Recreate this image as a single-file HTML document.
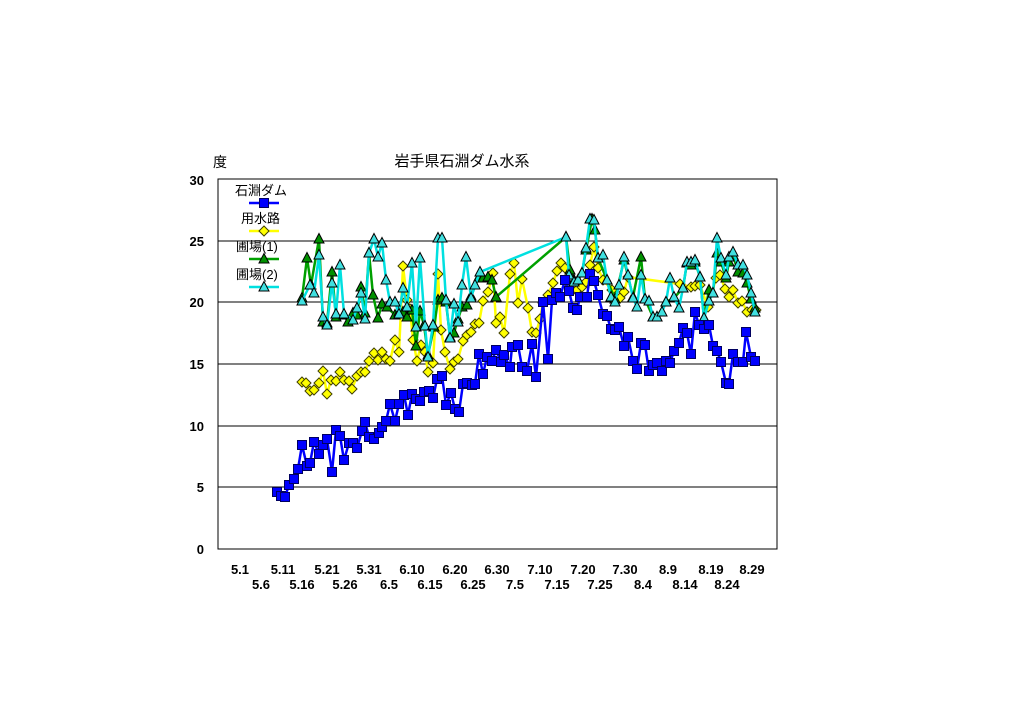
<!DOCTYPE html>
<html><head><meta charset="utf-8"><style>
html,body{margin:0;padding:0;background:#fff;}
svg{display:block;}
text{font-family:"Liberation Sans","Noto Sans CJK JP",sans-serif;}
</style></head><body>
<svg id="s" width="1024" height="724" xmlns="http://www.w3.org/2000/svg">
<rect x="0" y="0" width="1024" height="724" fill="#fff"/>
<g stroke="#000" stroke-width="1">
<line x1="218" y1="241" x2="777" y2="241"/>
<line x1="218" y1="302" x2="777" y2="302"/>
<line x1="218" y1="364" x2="777" y2="364"/>
<line x1="218" y1="426" x2="777" y2="426"/>
<line x1="218" y1="487" x2="777" y2="487"/>
<rect x="218" y="179" width="559" height="370" fill="none"/>
</g>
<g font-size="13" font-weight="bold" text-anchor="end">
<text x="204" y="185">30</text><text x="204" y="246">25</text><text x="204" y="307">20</text>
<text x="204" y="369">15</text><text x="204" y="431">10</text><text x="204" y="492">5</text><text x="204" y="554">0</text>
</g>
<text x="213" y="167" font-size="14">度</text>
<text x="462" y="166" font-size="15" text-anchor="middle">岩手県石淵ダム水系</text>
<g font-size="13" font-weight="bold" text-anchor="middle">
<text x="240" y="574">5.1</text><text x="283" y="574">5.11</text><text x="327" y="574">5.21</text><text x="369" y="574">5.31</text><text x="412" y="574">6.10</text><text x="455" y="574">6.20</text><text x="497" y="574">6.30</text><text x="540" y="574">7.10</text><text x="583" y="574">7.20</text><text x="625" y="574">7.30</text><text x="668" y="574">8.9</text><text x="711" y="574">8.19</text><text x="752" y="574">8.29</text>
<text x="261" y="589">5.6</text><text x="302" y="589">5.16</text><text x="345" y="589">5.26</text><text x="389" y="589">6.5</text><text x="430" y="589">6.15</text><text x="473" y="589">6.25</text><text x="515" y="589">7.5</text><text x="557" y="589">7.15</text><text x="600" y="589">7.25</text><text x="643" y="589">8.4</text><text x="685" y="589">8.14</text><text x="727" y="589">8.24</text>
</g>
<g id="d"></g>
<g font-size="13">
<text x="235" y="195">石淵ダム</text>
<text x="241" y="223">用水路</text>
<text x="236" y="251">圃場(1)</text>
<text x="236" y="279">圃場(2)</text>
</g>
<g id="lg"></g>
</svg>
<script>
var blue=[[277,492],[281,496],[285,497],[289,485],[294,479],[298,469],[302,445],[307,466],[310,463],[314,442],[319,454],[323,445],[327,439],[332,472],[336,430],[340,436],[344,460],[349,443],[353,443],[357,448],[362,431],[365,422],[369,437],[374,439],[379,433],[382,427],[386,421],[390,404],[395,421],[399,404],[404,395],[408,415],[412,394],[416,399],[420,401],[424,392],[429,391],[433,398],[437,379],[442,376],[446,405],[451,393],[455,409],[459,412],[463,384],[467,383],[472,385],[475,384],[479,354],[483,374],[487,357],[492,361],[496,350],[501,362],[504,355],[510,367],[512,347],[518,345],[522,367],[527,371],[532,344],[536,377],[543,302],[548,359],[552,300],[556,293],[560,297],[565,280],[569,291],[573,308],[577,310],[580,297],[587,297],[590,274],[594,281],[598,295],[603,314],[607,316],[611,329],[615,330],[619,327],[624,346],[628,337],[633,361],[637,369],[641,343],[645,345],[649,371],[653,365],[657,363],[662,371],[666,361],[670,363],[674,351],[679,343],[683,328],[687,333],[691,354],[695,312],[699,325],[704,329],[709,325],[713,346],[717,351],[721,362],[726,383],[729,384],[733,354],[738,362],[743,362],[746,332],[751,357],[755,361]];
var yel=[[302,382],[306,383],[310,391],[314,390],[319,383],[323,371],[327,394],[331,380],[336,381],[340,372],[344,380],[349,381],[352,389],[357,376],[361,372],[365,372],[369,361],[374,353],[378,360],[382,352],[386,359],[390,361],[395,340],[399,352],[403,266],[407,300],[410,309],[413,340],[417,361],[421,345],[425,352],[428,372],[433,363],[438,274],[441,330],[445,352],[450,369],[454,362],[458,359],[463,341],[467,335],[471,332],[475,324],[479,323],[483,301],[488,292],[493,273],[496,323],[500,317],[504,333],[510,274],[514,263],[518,303],[522,279],[528,308],[532,332],[536,333],[540,319],[543,303],[548,295],[553,283],[557,271],[561,263],[565,268],[569,287],[574,289],[577,290],[582,287],[586,282],[590,265],[594,247],[598,268],[603,280],[612,290],[620,298],[624,292],[628,277],[680,284],[691,287],[695,286],[700,285],[708,307],[716,278],[720,275],[725,289],[729,297],[733,290],[738,303],[742,301],[747,312],[752,310],[756,310]];
var cy=[[302,301],[310,285],[314,293],[319,255],[323,317],[327,325],[332,283],[336,314],[340,265],[344,314],[353,320],[357,308],[361,293],[365,319],[369,253],[374,239],[378,257],[382,243],[386,280],[390,302],[395,302],[399,314],[403,288],[407,307],[412,263],[416,327],[420,258],[425,326],[428,357],[433,325],[438,238],[442,238],[446,300],[450,338],[454,304],[458,322],[462,285],[466,257],[471,298],[475,285],[480,272],[566,237],[569,275],[574,282],[578,280],[582,273],[586,248],[590,219],[594,220],[598,258],[603,255],[607,280],[611,297],[615,302],[619,285],[624,257],[628,275],[633,298],[637,307],[641,275],[645,299],[649,301],[653,317],[657,317],[662,312],[666,302],[670,278],[674,297],[679,308],[683,288],[687,262],[691,262],[695,260],[700,277],[704,318],[709,301],[713,293],[717,238],[721,258],[726,275],[729,257],[733,252],[738,265],[743,265],[747,275],[751,293],[755,312]];
var gr=[[302,298],[307,258],[311,285],[319,239],[323,322],[327,323],[332,272],[336,317],[344,315],[348,322],[353,313],[357,315],[361,287],[365,313],[369,253],[373,295],[378,318],[382,304],[387,307],[395,315],[399,312],[403,312],[407,317],[412,310],[416,346],[420,311],[424,325],[428,355],[434,327],[438,300],[442,298],[446,302],[450,337],[454,333],[458,319],[462,307],[467,305],[471,296],[479,277],[483,278],[488,277],[492,280],[496,297],[566,237],[570,270],[574,280],[578,280],[582,273],[586,250],[592,219],[595,230],[598,258],[607,280],[615,299],[624,260],[633,297],[641,257],[645,299],[653,317],[657,317],[666,302],[674,298],[683,288],[687,263],[691,265],[695,262],[700,277],[704,318],[709,290],[713,293],[717,253],[721,262],[726,278],[729,262],[733,255],[738,272],[743,273],[747,283],[751,299],[755,308]];
var NS="http://www.w3.org/2000/svg";
function el(t,a,p){var e=document.createElementNS(NS,t);for(var k in a)e.setAttribute(k,a[k]);p.appendChild(e);return e;}
function mk(x,y,type,p){
 if(type=="sq")el("rect",{x:x-4.5,y:y-4.5,width:9,height:9,fill:"#0000ff",stroke:"#000060","stroke-width":1},p);
 else if(type=="di")el("polygon",{points:(x)+","+(y-5)+" "+(x+5)+","+y+" "+x+","+(y+5)+" "+(x-5)+","+y,fill:"#ffff00",stroke:"#404000","stroke-width":1},p);
 else el("polygon",{points:x+","+(y-5.5)+" "+(x+5)+","+(y+4)+" "+(x-5)+","+(y+4),fill:type,stroke:"#000","stroke-width":1},p);
}
function series(d,col,type,p){
 el("polyline",{points:d.map(function(q){return q.join(",")}).join(" "),fill:"none",stroke:col,"stroke-width":2.5},p);
 d.forEach(function(q){mk(q[0],q[1],type,p);});
}
var g=document.getElementById("d");
series(yel,"#ffff00","di",g);
series(gr,"#00a000","#009000",g);
series(cy,"#00e0e0","#40e0e0",g);
series(blue,"#0000ff","sq",g);
var lg=document.getElementById("lg");
[[203,"#0000ff","sq"],[231,"#ffff00","di"],[259,"#00a000","#009000"],[287,"#00e0e0","#40e0e0"]].forEach(function(r){
 el("line",{x1:249,y1:r[0],x2:279,y2:r[0],stroke:r[1],"stroke-width":2.5},lg);mk(264,r[0],r[2],lg);});
</script>
</body></html>
